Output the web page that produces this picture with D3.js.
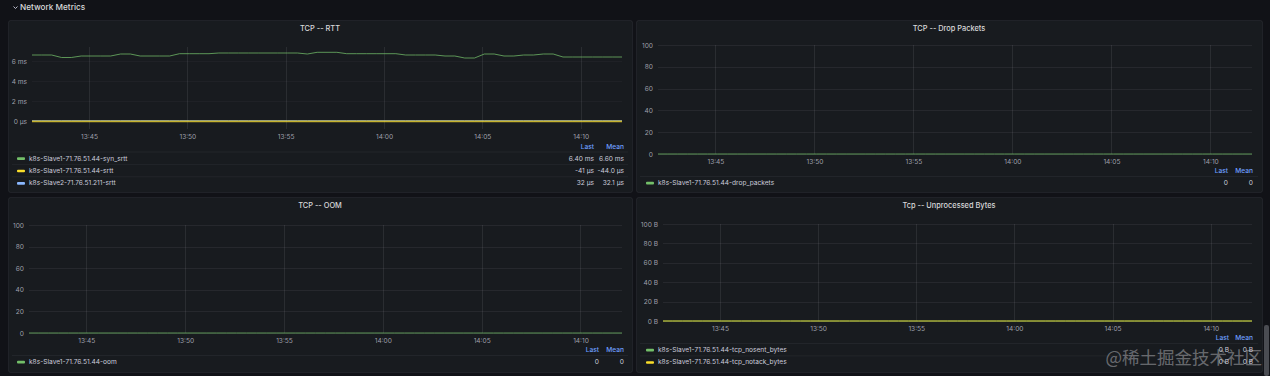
<!DOCTYPE html>
<html>
<head>
<meta charset="utf-8">
<script src="https://cdn.jsdelivr.net/npm/d3@7"></script>
<style>
  html, body { margin: 0; padding: 0; background: #111217; overflow: hidden; }
  svg { display: block; font-family: Inter, "Noto Sans", sans-serif; }
</style>
</head>
<body>
<div class="canvas"></div>
<script>
const parseTime = d3.timeParse("%H:%M:%S");
const startTime = parseTime("13:42:06");
const endTime = parseTime("14:12:06");
// one sample every 30s
const sampleTimes = d3.range(61).map((i) => d3.timeSecond.offset(startTime, i * 30));
const xTickLabels = ["13:45", "13:50", "13:55", "14:00", "14:05", "14:10"];

// TCP -- RTT (ms)
const rttSynSrtt = [
  6.6, 6.6, 6.6, 6.35, 6.35, 6.5, 6.5, 6.5, 6.5, 6.7,
  6.7, 6.5, 6.5, 6.5, 6.5, 6.73, 6.73, 6.73, 6.73, 6.8,
  6.8, 6.8, 6.8, 6.8, 6.8, 6.8, 6.8, 6.8, 6.7, 6.87,
  6.87, 6.87, 6.73, 6.73, 6.73, 6.73, 6.73, 6.73, 6.6, 6.6,
  6.6, 6.6, 6.5, 6.5, 6.3, 6.3, 6.7, 6.7, 6.5, 6.5,
  6.6, 6.6, 6.7, 6.7, 6.4, 6.4, 6.4, 6.4, 6.4, 6.4, 6.4
];
const rttSlave1Srtt = [
  -0.044, -0.045, -0.044, -0.043, -0.044, -0.046, -0.044, -0.044, -0.043, -0.044,
  -0.045, -0.044, -0.044, -0.043, -0.044, -0.044, -0.045, -0.044, -0.044, -0.043,
  -0.044, -0.044, -0.045, -0.044, -0.043, -0.044, -0.044, -0.044, -0.045, -0.044,
  -0.043, -0.044, -0.044, -0.045, -0.044, -0.044, -0.043, -0.044, -0.044, -0.045,
  -0.044, -0.044, -0.046, -0.045, -0.044, -0.045, -0.044, -0.043, -0.044, -0.043,
  -0.044, -0.044, -0.045, -0.044, -0.044, -0.043, -0.044, -0.044, -0.042, -0.041, -0.041
];
const rttSlave2Srtt = [
  0.032, 0.032, 0.031, 0.032, 0.033, 0.032, 0.032, 0.032, 0.031, 0.032,
  0.032, 0.033, 0.032, 0.032, 0.032, 0.031, 0.032, 0.032, 0.033, 0.032,
  0.032, 0.032, 0.031, 0.032, 0.032, 0.032, 0.033, 0.032, 0.032, 0.031,
  0.032, 0.032, 0.032, 0.033, 0.032, 0.032, 0.031, 0.032, 0.032, 0.032,
  0.033, 0.032, 0.032, 0.032, 0.031, 0.032, 0.032, 0.032, 0.033, 0.032,
  0.032, 0.032, 0.031, 0.032, 0.032, 0.032, 0.032, 0.033, 0.032, 0.032, 0.032
];
const rttTicks = [0, 2, 4, 6];
const rttTickLabels = ["0 µs", "2 ms", "4 ms", "6 ms"];

// TCP -- Drop Packets
const dropPackets = [
  0, 0, 0, 0, 0, 0, 0, 0, 0, 0, 0, 0, 0, 0, 0, 0, 0, 0, 0, 0,
  0, 0, 0, 0, 0, 0, 0, 0, 0, 0, 0, 0, 0, 0, 0, 0, 0, 0, 0, 0,
  0, 0, 0, 0, 0, 0, 0, 0, 0, 0, 0, 0, 0, 0, 0, 0, 0, 0, 0, 0, 0
];
// TCP -- OOM
const oomCount = [
  0, 0, 0, 0, 0, 0, 0, 0, 0, 0, 0, 0, 0, 0, 0, 0, 0, 0, 0, 0,
  0, 0, 0, 0, 0, 0, 0, 0, 0, 0, 0, 0, 0, 0, 0, 0, 0, 0, 0, 0,
  0, 0, 0, 0, 0, 0, 0, 0, 0, 0, 0, 0, 0, 0, 0, 0, 0, 0, 0, 0, 0
];
const countTicks = [0, 20, 40, 60, 80, 100];
const countTickLabels = ["0", "20", "40", "60", "80", "100"];

// Tcp -- Unprocessed Bytes
const nosentBytes = [
  0, 0, 0, 0, 0, 0, 0, 0, 0, 0, 0, 0, 0, 0, 0, 0, 0, 0, 0, 0,
  0, 0, 0, 0, 0, 0, 0, 0, 0, 0, 0, 0, 0, 0, 0, 0, 0, 0, 0, 0,
  0, 0, 0, 0, 0, 0, 0, 0, 0, 0, 0, 0, 0, 0, 0, 0, 0, 0, 0, 0, 0
];
const notackBytes = [
  0, 0, 0, 0, 0, 0, 0, 0, 0, 0, 0, 0, 0, 0, 0, 0, 0, 0, 0, 0,
  0, 0, 0, 0, 0, 0, 0, 0, 0, 0, 0, 0, 0, 0, 0, 0, 0, 0, 0, 0,
  0, 0, 0, 0, 0, 0, 0, 0, 0, 0, 0, 0, 0, 0, 0, 0, 0, 0, 0, 0, 0
];
const bytesTickLabels = ["0 B", "20 B", "40 B", "60 B", "80 B", "100 B"];

// legend stats as shown
const rttNames = ["k8s-Slave1-71.76.51.44-syn_srtt", "k8s-Slave1-71.76.51.44-srtt", "k8s-Slave2-71.76.51.211-srtt"];
const rttLast = ["6.40 ms", "-41 µs", "32 µs"];
const rttMean = ["6.60 ms", "-44.0 µs", "32.1 µs"];

const green = "#73bf69", yellow = "#fade2a", blue = "#8ab8ff";

const svg = d3
  .select(".canvas")
  .append("svg")
  .attr("width", 1270)
  .attr("height", 376);

svg.append("rect").attr("width", 1270).attr("height", 376).attr("fill", "#111217");

// row header
svg.append("path").attr("d", "M13.5,6.5 L15.5,8.5 L17.5,6.5")
  .attr("fill", "none").attr("stroke", "#ccccdc").attr("stroke-width", 0.9);
svg.append("text").attr("x", 20).attr("y", 10)
  .attr("font-size", 8.2).attr("font-weight", 500).attr("fill", "#d8d9da")
  .text("Network Metrics");

const xTickTimes = xTickLabels.map((t) => parseTime(t + ":00"));

function drawPanel(p) {
  const g = svg.append("g");

  g.append("rect")
    .attr("x", p.box[0] + 0.5).attr("y", p.box[1] + 0.5)
    .attr("width", p.box[2] - p.box[0]).attr("height", p.box[3] - p.box[1])
    .attr("rx", 2)
    .attr("fill", "#181b1f")
    .attr("stroke", "rgba(204,204,220,0.07)");

  g.append("text")
    .attr("x", (p.box[0] + p.box[2]) / 2).attr("y", p.box[1] + 11)
    .attr("text-anchor", "middle")
    .attr("font-size", 7.4).attr("font-weight", 500).attr("fill", "#d8d9da")
    .text(p.title);

  const x = d3.scaleTime().domain([startTime, endTime]).range([p.plot.left, p.plot.right]);
  const y = d3.scaleLinear().domain(p.yDomain).range([p.plot.bottom, p.plot.top]);

  // grid
  g.append("g").selectAll("line").data(p.yTicks).join("line")
    .attr("x1", p.plot.left).attr("x2", p.plot.right)
    .attr("y1", (d) => Math.round(y(d)) + 0.5).attr("y2", (d) => Math.round(y(d)) + 0.5)
    .attr("stroke", `rgba(204,204,220,${p.hGrid})`);
  g.append("g").selectAll("line").data(xTickTimes).join("line")
    .attr("x1", (d) => Math.round(x(d)) + 0.5).attr("x2", (d) => Math.round(x(d)) + 0.5)
    .attr("y1", p.plot.top).attr("y2", p.plot.bottom)
    .attr("stroke", "rgba(204,204,220,0.1)");

  // axes
  const yAxis = g.append("g")
    .attr("transform", `translate(${p.plot.left},0)`)
    .call(d3.axisLeft(y).tickValues(p.yTicks).tickFormat((d, i) => p.yLabels[i]).tickSize(0).tickPadding(5));
  const xAxis = g.append("g")
    .attr("transform", `translate(0,${p.plot.bottom})`)
    .call(d3.axisBottom(x).tickValues(xTickTimes).tickFormat(d3.timeFormat("%H:%M")).tickSize(0).tickPadding(5));
  [yAxis, xAxis].forEach((a) => {
    a.select(".domain").remove();
    a.selectAll("text")
      .attr("fill", "rgba(204,204,220,0.75)")
      .attr("font-size", 6.6)
      .attr("font-family", "Inter, 'Noto Sans', sans-serif");
  });

  // series, drawn in the panel's draw order
  const line = d3.line()
    .x((d, i) => x(sampleTimes[i]))
    .y((d) => y(d));
  (p.drawOrder || p.series.map((d, i) => i)).forEach((k) => {
    const s = p.series[k];
    g.append("path")
      .attr("d", line(s.values))
      .attr("fill", "none")
      .attr("stroke", s.color)
      .attr("stroke-opacity", 0.75)
      .attr("stroke-width", s.width || 1);
  });

  // legend table
  const lg = g.append("g");
  const L = p.legend;
  lg.append("text").attr("x", L.lastRight).attr("y", L.top)
    .attr("text-anchor", "end").attr("dominant-baseline", "central")
    .attr("font-size", 6.6).attr("font-weight", 500).attr("fill", "#6e9fff").text("Last");
  lg.append("text").attr("x", L.meanRight).attr("y", L.top)
    .attr("text-anchor", "end").attr("dominant-baseline", "central")
    .attr("font-size", 6.6).attr("font-weight", 500).attr("fill", "#6e9fff").text("Mean");

  const rows = lg.selectAll("g.row").data(p.series).join("g")
    .attr("class", "row")
    .attr("transform", (d, i) => `translate(0,${L.top + 12 + i * 12.4})`);
  rows.append("line")
    .attr("x1", p.box[0] + 4).attr("x2", p.box[2] - 4)
    .attr("y1", -6.5).attr("y2", -6.5)
    .attr("stroke", "rgba(204,204,220,0.06)");
  rows.append("rect")
    .attr("x", L.swatchX).attr("y", -1.2)
    .attr("width", 8).attr("height", 2.6).attr("rx", 1)
    .attr("fill", (d) => d.color);
  rows.append("text")
    .attr("x", L.swatchX + 12).attr("y", 0)
    .attr("dominant-baseline", "central")
    .attr("font-size", 6.6).attr("fill", "#ccccdc")
    .text((d) => d.name);
  rows.append("text")
    .attr("x", L.lastRight).attr("y", 0)
    .attr("text-anchor", "end").attr("dominant-baseline", "central")
    .attr("font-size", 6.6).attr("fill", "#ccccdc")
    .text((d) => d.last);
  rows.append("text")
    .attr("x", L.meanRight).attr("y", 0)
    .attr("text-anchor", "end").attr("dominant-baseline", "central")
    .attr("font-size", 6.6).attr("fill", "#ccccdc")
    .text((d) => d.mean);
}

drawPanel({
  title: "TCP -- RTT",
  box: [8, 20, 632, 192],
  plot: { left: 32, right: 622, top: 47, bottom: 129 },
  yDomain: [-0.8, 7.4],
  yTicks: rttTicks,
  yLabels: rttTickLabels,
  hGrid: 0.04,
  series: [
    { name: rttNames[0], color: green, values: rttSynSrtt, last: rttLast[0], mean: rttMean[0] },
    { name: rttNames[1], color: yellow, values: rttSlave1Srtt, last: rttLast[1], mean: rttMean[1], width: 1.8 },
    { name: rttNames[2], color: blue, values: rttSlave2Srtt, last: rttLast[2], mean: rttMean[2] }
  ],
  drawOrder: [0, 2, 1],
  legend: { top: 146.5, swatchX: 17, lastRight: 594, meanRight: 624 }
});

drawPanel({
  title: "TCP -- Drop Packets",
  box: [636, 20, 1262, 192],
  plot: { left: 658, right: 1252, top: 45, bottom: 154 },
  yDomain: [0, 100],
  yTicks: countTicks,
  yLabels: countTickLabels,
  hGrid: 0.08,
  series: [
    { name: "k8s-Slave1-71.76.51.44-drop_packets", color: green, values: dropPackets, last: "0", mean: "0" }
  ],
  legend: { top: 171, swatchX: 646, lastRight: 1228, meanRight: 1253 }
});

drawPanel({
  title: "TCP -- OOM",
  box: [8, 197, 632, 372],
  plot: { left: 29, right: 622, top: 225, bottom: 333 },
  yDomain: [0, 100],
  yTicks: countTicks,
  yLabels: countTickLabels,
  hGrid: 0.08,
  series: [
    { name: "k8s-Slave1-71.76.51.44-oom", color: green, values: oomCount, last: "0", mean: "0" }
  ],
  legend: { top: 350, swatchX: 17, lastRight: 599, meanRight: 624 }
});

drawPanel({
  title: "Tcp -- Unprocessed Bytes",
  box: [636, 197, 1262, 372],
  plot: { left: 663, right: 1252, top: 224, bottom: 321 },
  yDomain: [0, 100],
  yTicks: countTicks,
  yLabels: bytesTickLabels,
  hGrid: 0.08,
  series: [
    { name: "k8s-Slave1-71.76.51.44-tcp_nosent_bytes", color: green, values: nosentBytes, last: "0 B", mean: "0 B" },
    { name: "k8s-Slave1-71.76.51.44-tcp_notack_bytes", color: yellow, values: notackBytes, last: "0 B", mean: "0 B" }
  ],
  legend: { top: 338, swatchX: 646, lastRight: 1229, meanRight: 1253 }
});

// scrollbar
svg.append("rect").attr("x", 1264).attr("y", 325).attr("width", 5).attr("height", 51)
  .attr("rx", 2).attr("fill", "#4a4c52");

// watermark (sits over the last legend cells, as in the screenshot)
svg.append("text")
  .attr("x", 1262).attr("y", 364)
  .attr("text-anchor", "end")
  .attr("font-family", "'Noto Sans CJK SC', sans-serif")
  .attr("font-size", 17.5)
  .attr("fill", "rgba(230,230,235,0.4)")
  .text("@稀土掘金技术社区");
</script>
</body>
</html>
